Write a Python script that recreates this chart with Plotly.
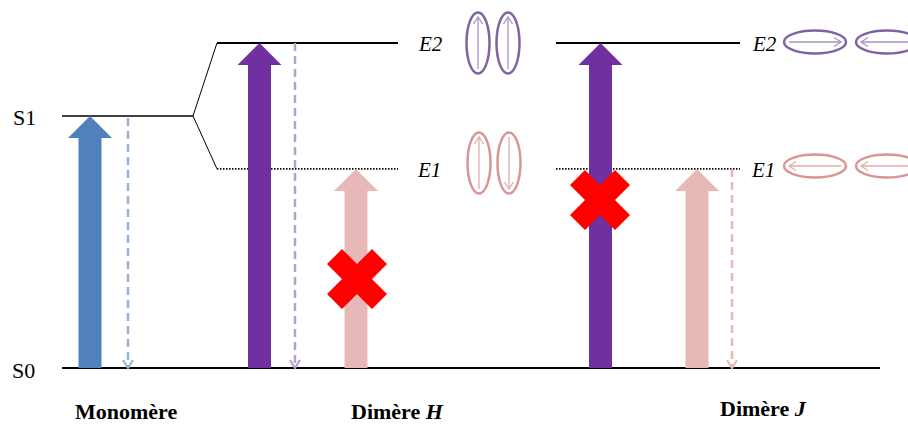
import plotly.graph_objects as go
import math

# ---------------- data ----------------
level_names = ["S0", "S1", "E1", "E2"]
level_energy = [0.0, 1.0, 0.79, 1.29]
E = dict(zip(level_names, level_energy))

group_labels = ["<b>Monomère</b>", "<b>Dimère <i>H</i></b>", "<b>Dimère <i>J</i></b>"]

# absorption transitions S0 -> level (allowed / forbidden)
abs_level = ["S1", "E2", "E1", "E2", "E1"]
abs_allowed = [True, True, False, False, True]
# emission transitions level -> S0
emi_level = ["S1", "E2", "E1"]
# transition dipoles drawn in the exciton-state ellipses (deg, 90 = up)
dip_level = ["E2", "E2", "E1", "E1", "E2", "E2", "E1", "E1"]
dip_angle = [90, 90, 90, -90, 0, 180, 180, 180]

# ---------------- layout constants (pixels) ----------------
W, H = 908, 425
Y0, S = 368.0, 252.0          # pixel of S0, pixels per energy unit


def ey(py):
    return (Y0 - py) / S


def dy(px):
    return px / S


FONT = "Liberation Serif, Times New Roman, serif"
BLACK = "#000000"

fig = go.Figure()


def line(xs, ys, color, width, dash="solid"):
    fig.add_trace(go.Scatter(x=xs, y=ys, mode="lines",
                             line=dict(color=color, width=width, dash=dash),
                             hoverinfo="skip", showlegend=False))


def poly(xs, ys, color):
    fig.add_trace(go.Scatter(x=xs + [xs[0]], y=ys + [ys[0]], mode="lines",
                             fill="toself", fillcolor=color,
                             line=dict(color=color, width=0),
                             hoverinfo="skip", showlegend=False))


# ---- energy levels ----
line([62, 880], [E["S0"], E["S0"]], BLACK, 2)
line([62, 193], [E["S1"], E["S1"]], BLACK, 1.6)
line([217, 193, 217], [E["E2"], E["S1"], E["E1"]], BLACK, 1)
for x0, x1 in [(217, 398), (556, 740)]:
    line([x0, x1], [E["E2"], E["E2"]], BLACK, 2)
    line([x0, x1], [E["E1"], E["E1"]], BLACK, 1.6, dash="1.5px,1.5px")

# ---- emission (dashed) arrows ----
emi_x = [128, 295, 732]
emi_col = ["#95B3D7", "#B3A2C7", "#E6B9B8"]
emi_off = [2, 0, 0]
for lv, cx, col, off in zip(emi_level, emi_x, emi_col, emi_off):
    line([cx, cx], [E[lv] - dy(off), E["S0"]], col, 2.5, dash="8px,5px")
    line([cx - 5, cx, cx + 5], [E["S0"] + dy(8), E["S0"], E["S0"] + dy(8)], col, 2)

# ---- absorption (block) arrows ----
abs_x = [90, 259.5, 356, 600.5, 697]
abs_col = ["#4F81BD", "#7030A0", "#E6B9B8", "#7030A0", "#E6B9B8"]
SW, HW, HL = 11.5, 22, 22
for lv, cx, col in zip(abs_level, abs_x, abs_col):
    top = E[lv]
    base = top - dy(HL)
    xs = [cx - SW, cx - SW, cx - HW, cx, cx + HW, cx + SW, cx + SW]
    ys = [E["S0"], base, base, top, base, base, E["S0"]]
    poly(xs, ys, col)

# ---- forbidden marks ----
cross_pos = {2: (357, 279), 3: (600, 200)}
n = 15
for i, ok in enumerate(abs_allowed):
    if ok:
        continue
    cx, cy = cross_pos[i]
    pts = [(0, -n), (n, -2 * n), (2 * n, -n), (n, 0), (2 * n, n), (n, 2 * n),
           (0, n), (-n, 2 * n), (-2 * n, n), (-n, 0), (-2 * n, -n), (-n, -2 * n)]
    poly([cx + p[0] for p in pts], [ey(cy + p[1]) for p in pts], "#FF0000")

# ---- exciton ellipses with transition dipoles ----
ell_cx = [478, 508, 479, 509, 815, 887, 815, 887]
ell_cy = [43, 43, 163, 163, 42, 42, 166, 166]
vert = [True, True, True, True, False, False, False, False]
ell_col = {"E2": "#8064A2", "E1": "#D99694"}
dip_col = {"E2": "#A993C6", "E1": "#E3AAA9"}
for lv, ang, cx, cy, v in zip(dip_level, dip_angle, ell_cx, ell_cy, vert):
    a, b = (11.5, 30.5) if v else (31, 11.5)
    fig.add_shape(type="circle", xref="x", yref="y",
                  x0=cx - a, x1=cx + a, y0=ey(cy + b), y1=ey(cy - b),
                  line=dict(color=ell_col[lv], width=2.5))
    L = 26
    ux, uy = math.cos(math.radians(ang)), -math.sin(math.radians(ang))
    tx, ty = cx + ux * L, cy + uy * L
    sx, sy = cx - ux * L, cy - uy * L
    line([sx, tx], [ey(sy), ey(ty)], dip_col[lv], 1.3)
    # open arrow head
    px_, py_ = -uy, ux
    h1 = (tx - ux * 7 + px_ * 4.5, ty - uy * 7 + py_ * 4.5)
    h2 = (tx - ux * 7 - px_ * 4.5, ty - uy * 7 - py_ * 4.5)
    line([h1[0], tx, h2[0]], [ey(h1[1]), ey(ty), ey(h2[1])], dip_col[lv], 1.3)

# ---- text ----
ann = []


def text(x, py, s, size, **kw):
    ann.append(dict(x=x, y=ey(py), xref="x", yref="y", text=s, showarrow=False,
                    font=dict(family=FONT, size=size, color=BLACK),
                    xanchor="center", yanchor="middle", **kw))


text(24, 117, "S1", 22)
text(23, 370, "S0", 22)
for x, lv in [(430, "E2"), (429, "E1"), (764, "E2"), (763, "E1")]:
    text(x, (Y0 - E[lv] * S) + 1, "<i>%s</i>" % lv, 21)
lab_x = [126, 397, 763]
lab_y = [411, 411, 408]
for s, x, y in zip(group_labels, lab_x, lab_y):
    text(x, y, s, 22)

fig.update_layout(
    width=W, height=H, margin=dict(l=0, r=0, t=0, b=0),
    paper_bgcolor="white", plot_bgcolor="white",
    xaxis=dict(range=[0, W], visible=False, fixedrange=True),
    yaxis=dict(range=[ey(H), ey(0)], visible=False, fixedrange=True),
    annotations=ann, showlegend=False,
)
fig.write_html("out.html", config={"displayModeBar": False},
               post_script="document.body.style.margin='0px';"
                           "document.body.style.overflow='hidden';")
